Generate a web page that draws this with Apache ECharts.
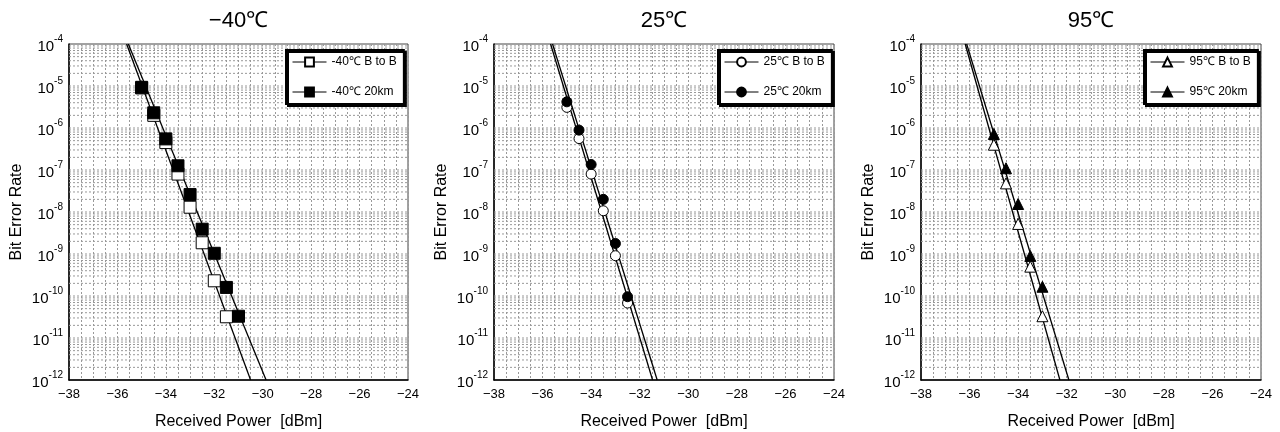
<!DOCTYPE html>
<html><head><meta charset="utf-8">
<script src="https://cdn.jsdelivr.net/npm/echarts@6/dist/echarts.min.js"></script>
<style>html,body{margin:0;padding:0;background:#fff}#c{width:1280px;height:432px}</style>
</head><body><div id="c"></div>
<script>
// ---------- data ----------
const panelTitles = ['−40℃', '25℃', '95℃'];
const fitBer = [1e-4, 1e-12];

// -40 C
const m40BtbPower = [-35, -34.5, -34, -33.5, -33, -32.5, -32, -31.5];
const m40BtbBer   = [9e-6, 2.0e-6, 4.5e-7, 8e-8, 1.3e-8, 1.85e-9, 2.3e-10, 3.2e-11];
const m40KmPower  = [-35, -34.5, -34, -33.5, -33, -32.5, -32, -31.5, -31];
const m40KmBer    = [9.3e-6, 2.3e-6, 5.5e-7, 1.26e-7, 2.6e-8, 3.9e-9, 1.04e-9, 1.6e-10, 3.3e-11];
const m40BtbFitPower = [-35.62, -30.5];
const m40KmFitPower  = [-35.55, -29.86];

// 25 C
const p25BtbPower = [-35, -34.5, -34, -33.5, -33, -32.5];
const p25BtbBer   = [3.1e-6, 5.6e-7, 8e-8, 1.07e-8, 9.1e-10, 6.8e-11];
const p25KmPower  = [-35, -34.5, -34, -33.5, -33, -32.5];
const p25KmBer    = [4.2e-6, 8.9e-7, 1.35e-7, 2.0e-8, 1.78e-9, 9.6e-11];
const p25BtbFitPower = [-35.67, -31.47];
const p25KmFitPower  = [-35.59, -31.28];

// 95 C
const p95BtbPower = [-35, -34.5, -34, -33.5, -33];
const p95BtbBer   = [4e-7, 4.8e-8, 5.2e-9, 5e-10, 3.3e-11];
const p95KmPower  = [-35, -34.5, -34, -33.5, -33];
const p95KmBer    = [7.2e-7, 1.1e-7, 1.55e-8, 9e-10, 1.66e-10];
const p95BtbFitPower = [-36.18, -32.28];
const p95KmFitPower  = [-36.12, -31.91];

const legendNames = [
  ['-40℃ B to B', '-40℃ 20km'],
  ['25℃ B to B', '25℃ 20km'],
  ['95℃ B to B', '95℃ 20km']
];
const symbols = ['rect', 'circle', 'triangle'];

const panels = [
  {btb: [m40BtbPower, m40BtbBer], km: [m40KmPower, m40KmBer], btbFit: m40BtbFitPower, kmFit: m40KmFitPower},
  {btb: [p25BtbPower, p25BtbBer], km: [p25KmPower, p25KmBer], btbFit: p25BtbFitPower, kmFit: p25KmFitPower},
  {btb: [p95BtbPower, p95BtbBer], km: [p95KmPower, p95KmBer], btbFit: p95BtbFitPower, kmFit: p95KmFitPower}
];

// ---------- layout ----------
const gridLefts = [69, 494, 921];
const gridWidths = [339, 340, 340];
const gridTop = 44, gridHeight = 336;
const legendLefts = [286, 718, 1144];
const symbolSizes = [12, 10, 11];

const FONT = '"Liberation Sans", Arial, sans-serif';

const zip = (xs, ys) => xs.map((x, i) => [x, ys[i]]);

// horizontal log grid line levels (1..9 × 10^e)
const gridLevels = [];
for (let e = -12; e <= -5; e++) {
  for (let k = 1; k <= 9; k++) {
    if (e === -12 && k === 1) continue;
    gridLevels.push(k * Math.pow(10, e));
  }
}

const grids = [], xAxes = [], yAxes = [], series = [], legends = [], graphics = [];
for (let p = 0; p < 3; p++) {
  grids.push({left: gridLefts[p], top: gridTop, width: gridWidths[p], height: gridHeight,
    outerBoundsMode: 'none', containLabel: false,
    show: true, borderColor: '#444', borderWidth: 1});
  xAxes.push({
    type: 'value', gridIndex: p, min: -38, max: -24, interval: 2,
    name: 'Received Power  [dBm]', nameLocation: 'middle', nameGap: 34,
    nameTextStyle: {fontFamily: FONT, fontSize: 16, color: '#000'},
    axisLine: {show: true, onZero: false, lineStyle: {color: '#000', width: 1.5}},
    axisTick: {show: false},
    minorTick: {show: false, splitNumber: 4},
    axisLabel: {fontFamily: FONT, fontSize: 13, color: '#000', margin: 8,
      formatter: v => String(v).replace('-', '−')},
    splitLine: {show: true, lineStyle: {color: '#999', type: [2, 2], width: 1}},
    minorSplitLine: {show: true, lineStyle: {color: '#999', type: [2, 2], width: 1}}
  });
  yAxes.push({
    type: 'log', logBase: 10, gridIndex: p, min: 1e-12, max: 1e-4, splitNumber: 8,
    name: 'Bit Error Rate', nameLocation: 'middle', nameGap: 44,
    nameTextStyle: {fontFamily: FONT, fontSize: 16, color: '#000'},
    axisLine: {show: true, lineStyle: {color: '#000', width: 1.5}},
    axisTick: {show: false},
    splitLine: {show: false},
    axisLabel: {
      margin: 6, color: '#000',
      formatter: v => '{b|10}{s|-' + Math.abs(Math.round(Math.log10(v))) + '}',
      rich: {
        b: {fontFamily: FONT, fontSize: 15, color: '#000', verticalAlign: 'bottom', lineHeight: 20},
        s: {fontFamily: FONT, fontSize: 10, color: '#000', verticalAlign: 'top', lineHeight: 20}
      }
    }
  });
  const d = panels[p];
  // horizontal log grid lines, each a plain line across the axis range
  gridLevels.forEach(v => {
    series.push({
      type: 'line', xAxisIndex: p, yAxisIndex: p, silent: true, symbol: 'none', z: 1,
      data: [[-38, v], [-24, v]], lineStyle: {color: '#999', type: [2, 2], width: 1},
      emphasis: {disabled: true}, tooltip: {show: false}, animation: false
    });
  });
  // fit lines
  series.push({
    type: 'line', name: 'fitA' + p, xAxisIndex: p, yAxisIndex: p, showSymbol: false, symbol: 'none',
    data: zip(d.btbFit, fitBer), lineStyle: {color: '#000', width: 1.3}, z: 3, animation: false
  });
  series.push({
    type: 'line', name: 'fitB' + p, xAxisIndex: p, yAxisIndex: p, showSymbol: false, symbol: 'none',
    data: zip(d.kmFit, fitBer), lineStyle: {color: '#000', width: 1.3}, z: 3, animation: false
  });
  // markers
  series.push({
    type: 'line', name: legendNames[p][0], xAxisIndex: p, yAxisIndex: p,
    data: zip(d.btb[0], d.btb[1]), symbol: symbols[p], symbolSize: symbolSizes[p],
    lineStyle: {width: 0, opacity: 0},
    itemStyle: {color: '#fff', borderColor: '#000', borderWidth: 1}, z: 4, animation: false
  });
  series.push({
    type: 'line', name: legendNames[p][1], xAxisIndex: p, yAxisIndex: p,
    data: zip(d.km[0], d.km[1]), symbol: symbols[p], symbolSize: symbolSizes[p],
    lineStyle: {width: 0, opacity: 0},
    itemStyle: {color: '#000', borderColor: '#000', borderWidth: 1}, z: p === 2 ? 3 : 5, animation: false
  });
  legends.push({
    data: legendNames[p], left: legendLefts[p], top: 50, orient: 'vertical',
    itemWidth: 34, itemHeight: 11, itemGap: 18,
    padding: [6, 7, 6, 6], backgroundColor: '#fff', borderColor: '#000', borderWidth: 2,
    shadowColor: '#000', shadowBlur: 0, shadowOffsetX: 2, shadowOffsetY: 2,
    selectedMode: false,
    textStyle: {fontFamily: FONT, fontSize: 12, color: '#000'},
    lineStyle: {color: '#000', width: 1, opacity: 1, type: 'solid'}
  });
  graphics.push({
    type: 'text', x: gridLefts[p] + gridWidths[p] / 2, y: 10,
    style: {text: panelTitles[p], font: '22px ' + FONT, fill: '#000', textAlign: 'center'}
  });
}

const chart = echarts.init(document.getElementById('c'), null, {renderer: 'canvas'});
chart.setOption({
  animation: false,
  grid: grids, xAxis: xAxes, yAxis: yAxes, series: series, legend: legends,
  graphic: graphics
});
</script>
</body></html>
